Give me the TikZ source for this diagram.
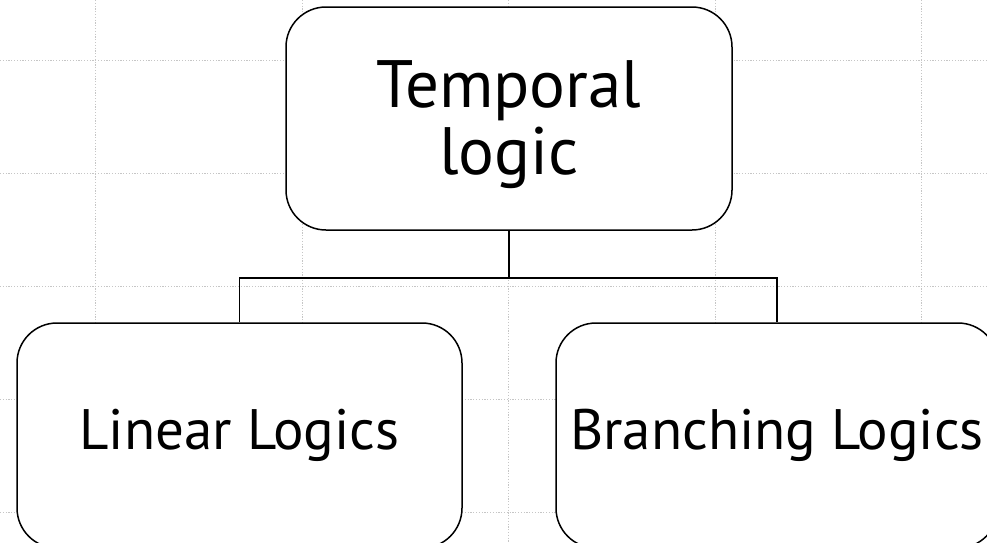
\documentclass[tikz,border=0pt]{standalone}
\usepackage{fontspec}
\setmainfont{PT Sans}
\begin{document}
\begin{tikzpicture}[x=1pt,y=-1pt,
  gridline/.style={draw=gray!45,line width=1pt,dash pattern=on 1.2pt off 1.6pt},
  topbox/.style={draw,line width=1.5pt,fill=white,rounded corners=40pt,align=center,inner sep=0pt},
  conn/.style={line width=1.5pt}]
\useasboundingbox (0,0) rectangle (987,542);
\clip (0,0) rectangle (987,542);
% grid
\foreach \gx in {95,302,508,715,921} \draw[gridline] (\gx,0) -- (\gx,542);
\foreach \gy in {60,173,286,399,512} \draw[gridline] (0,\gy) -- (987,\gy);
% boxes
\node[topbox,minimum width=446pt,minimum height=223pt,font=\fontsize{67}{66}\selectfont] (top) at (509,118.5)
  {\raisebox{11.5pt}[0pt][0pt]{\begin{tabular}[t]{@{}c@{}}Temporal\\logic\end{tabular}}};
\node[topbox,minimum width=445pt,minimum height=225pt,font=\fontsize{57}{60}\selectfont] (lin) at (239.5,435.5) {Linear Logics};
\node[topbox,minimum width=442pt,minimum height=225pt,font=\fontsize{57}{60}\selectfont] (bra) at (777,435.5) {Branching Logics};
% connectors
\draw[conn] (top.south) -- ++(0,47) coordinate (j);
\draw[conn] (lin.north) |- (j);
\draw[conn] (j) -| (bra.north);
\end{tikzpicture}
\end{document}
